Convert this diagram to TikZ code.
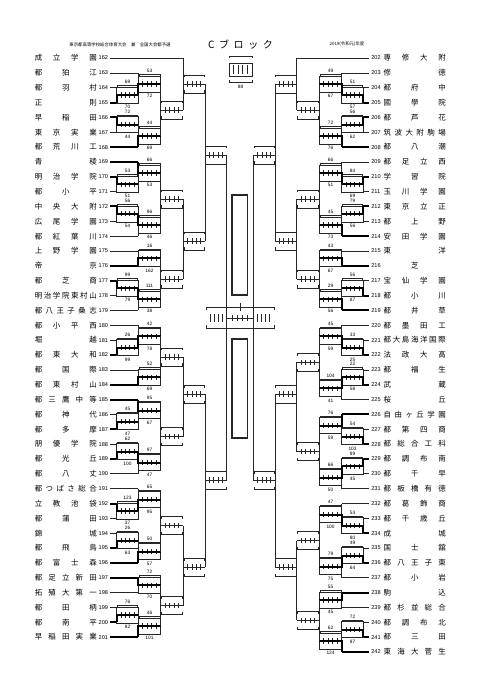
\documentclass[tikz,border=0pt]{standalone}
\usepackage{fontspec}
\setmainfont{Liberation Sans}
\newfontfamily\jp{Noto Sans CJK JP}
\newfontfamily\jpl{Noto Sans CJK JP}
\makeatletter
\def\spr@first#1{#1\spr@next}
\def\spr@next#1{\ifx\relax#1\else\hfill#1\expandafter\spr@next\fi}
\newcommand\spreadname[2]{\makebox[#1][s]{\spr@first#2\relax}}
\makeatother
\newlength\nw \setlength\nw{46.5pt}
\def\Ca{116.7}\def\Cb{138.3}\def\Cc{160.7}\def\Cd{183.3}\def\Ce{205}\def\Cf{226.7}
% match: xa xb ytop ybot ymid winner(t/b/n) labelabove labelbelow
\newcommand\mt[8]{%
  \pgfmathsetmacro\xm{(#1+#2)/2}%
  \draw[ln] (#1,#3) -- (#1,#4);
  \draw[ln] (#1,#5) -- (#2,#5);
  \foreach \k in {1,2,3,4}{\draw[tk] ({#1+\k*(#2-#1)/5},#5-2.6) -- ++(0,5.2);}
  \if n#6
    \draw[ln] (#1+0.8,#5-6.5) -- (#1+0.8,#5-9) -- (#2-0.8,#5-9) -- (#2-0.8,#5-6.5);
    \draw[ln] (#1+0.8,#5+6.5) -- (#1+0.8,#5+9) -- (#2-0.8,#5+9) -- (#2-0.8,#5+6.5);
  \else
    \draw[ln] (#1,#5-8) rectangle (#2,#5+8);
    \draw[ln] (#1+0.8,#5-8) -- (#1+0.8,#5-9.5) -- (#2-0.8,#5-9.5) -- (#2-0.8,#5-8);
    \if t#6
      \draw[thk] (#1,#3) -- (#1,#5) -- (#2,#5);
    \else
      \draw[thk] (#1,#4) -- (#1,#5) -- (#2,#5);
    \fi
    \node[lab] at (\xm,#5-13) {#7};
    \node[lab] at (\xm,#5+12) {#8};
  \fi
}
\newcommand\lteam[5]{%
  \node[num,anchor=east] (t#1) at (108.3,#3) {#1};
  \node[nm,anchor=west] (n#1) at (34.5,#3) {\spreadname{\nw}{#2}};
  \draw[#5] ([xshift=1.6pt]t#1.east) -- (#4,#3);
}
\newcommand\rteam[5]{%
  \node[num,anchor=west] (t#1) at (371,#3) {#1};
  \node[nm,anchor=east] (n#1) at (446,#3) {\spreadname{\nw}{#2}};
  \draw[#5] ([xshift=-1.6pt]t#1.west) -- (480-#4,#3);
}
\begin{document}
\begin{tikzpicture}[x=0.75pt,y=-0.75pt,
  ln/.style={line width=0.5pt,black!85},
  thk/.style={line width=1.5pt,black},
  tk/.style={line width=0.45pt,black!85},
  nm/.style={font=\jp\fontsize{5.6}{6}\selectfont,inner sep=0pt},
  num/.style={font=\fontsize{4.2}{5}\selectfont,inner sep=0pt},
  lab/.style={font=\fontsize{3.6}{4}\selectfont,inner sep=0pt}]
\useasboundingbox (0,0) rectangle (481,680);
\fill[white] (0,0) rectangle (481,680);
% header
\node[font=\jpl\fontsize{3.3}{4}\selectfont,inner sep=0pt] (hdr) at (120,44.5) {東京都高等学校総合体育大会　兼　全国大会都予選};
\node[font=\jpl\fontsize{7.5}{8}\selectfont,inner sep=0pt] (blk) at (240.5,45) {\makebox[48.5pt][s]{C\hfill ブ\hfill ロ\hfill ッ\hfill ク}};
\node[font=\jpl\fontsize{3.3}{4}\selectfont,inner sep=0pt] (yr) at (347,44.5) {2019(令和元)年度};
% header small figure
\draw[ln] (229,58) -- (229,56) -- (252,56) -- (252,58);
\draw[ln] (229,63) rectangle (252,76);
\foreach \xx in {233.5,238,242.5,247}{\draw[tk] (\xx,65) -- (\xx,74);}
\draw[ln] (229,80) -- (229,82) -- (252,82) -- (252,80);
\node[lab] (hfig) at (240.5,87) {88};
% left teams
\lteam{162}{成立学園}{58}{\Cd}{ln}
\lteam{163}{都狛江}{72.85}{\Cb}{ln}
\lteam{164}{都羽村}{87.7}{\Ca}{ln}
\lteam{165}{正則}{102.55}{\Ca}{thk}
\lteam{166}{早稲田}{117.4}{\Ca}{thk}
\lteam{167}{東京実業}{132.25}{\Ca}{ln}
\lteam{168}{都荒川工}{147.1}{\Cb}{thk}
\lteam{169}{青稜}{161.95}{\Cb}{thk}
\lteam{170}{明治学院}{176.8}{\Ca}{thk}
\lteam{171}{都小平}{191.65}{\Ca}{ln}
\lteam{172}{中央大附}{206.5}{\Ca}{thk}
\lteam{173}{広尾学園}{221.35}{\Ca}{ln}
\lteam{174}{都紅葉川}{236.2}{\Cb}{ln}
\lteam{175}{上野学園}{251.05}{\Cb}{ln}
\lteam{176}{帝京}{265.9}{\Cb}{thk}
\lteam{177}{都芝商}{280.75}{\Ca}{thk}
\lteam{178}{明治学院東村山}{295.6}{\Ca}{ln}
\lteam{179}{都八王子桑志}{310.45}{\Cb}{ln}
\lteam{180}{都小平西}{325.3}{\Cb}{ln}
\lteam{181}{堀越}{340.15}{\Ca}{ln}
\lteam{182}{都東大和}{355}{\Ca}{thk}
\lteam{183}{都国際}{369.85}{\Cb}{ln}
\lteam{184}{都東村山}{384.7}{\Cb}{thk}
\lteam{185}{都三鷹中等}{399.55}{\Cb}{thk}
\lteam{186}{都神代}{414.4}{\Ca}{ln}
\lteam{187}{都多摩}{429.25}{\Ca}{thk}
\lteam{188}{朋優学院}{444.1}{\Ca}{ln}
\lteam{189}{都光丘}{458.95}{\Ca}{thk}
\lteam{190}{都八丈}{473.8}{\Cb}{ln}
\lteam{191}{都つばさ総合}{488.65}{\Cb}{ln}
\lteam{192}{立教池袋}{503.5}{\Ca}{thk}
\lteam{193}{都蒲田}{518.35}{\Ca}{ln}
\lteam{194}{錦城}{533.2}{\Ca}{ln}
\lteam{195}{都飛鳥}{548.05}{\Ca}{thk}
\lteam{196}{都富士森}{562.9}{\Cb}{thk}
\lteam{197}{都足立新田}{577.75}{\Cb}{thk}
\lteam{198}{拓殖大第一}{592.6}{\Cb}{ln}
\lteam{199}{都田柄}{607.45}{\Ca}{ln}
\lteam{200}{都南平}{622.3}{\Ca}{thk}
\lteam{201}{早稲田実業}{637.15}{\Cb}{thk}
% right teams
\rteam{202}{専修大附}{58}{\Cd}{ln}
\rteam{203}{修徳}{72.85}{\Cb}{ln}
\rteam{204}{都府中}{87.7}{\Ca}{ln}
\rteam{205}{國學院}{102.55}{\Ca}{thk}
\rteam{206}{都芦花}{117.4}{\Ca}{thk}
\rteam{207}{筑波大附駒場}{132.25}{\Ca}{ln}
\rteam{208}{都八潮}{147.1}{\Cb}{thk}
\rteam{209}{都足立西}{161.95}{\Cb}{ln}
\rteam{210}{学習院}{176.8}{\Ca}{thk}
\rteam{211}{玉川学園}{191.65}{\Ca}{ln}
\rteam{212}{東京立正}{206.5}{\Ca}{thk}
\rteam{213}{都上野}{221.35}{\Ca}{ln}
\rteam{214}{安田学園}{236.2}{\Cb}{thk}
\rteam{215}{東洋}{251.05}{\Cb}{ln}
\rteam{216}{\hfill 芝\hfill}{265.9}{\Cb}{thk}
\rteam{217}{宝仙学園}{280.75}{\Ca}{ln}
\rteam{218}{都小川}{295.6}{\Ca}{thk}
\rteam{219}{都井草}{310.45}{\Cb}{thk}
\rteam{220}{都墨田工}{325.3}{\Cb}{ln}
\rteam{221}{都大島海洋国際}{340.15}{\Ca}{ln}
\rteam{222}{法政大高}{355}{\Ca}{thk}
\rteam{223}{都福生}{369.85}{\Ca}{ln}
\rteam{224}{武蔵}{384.7}{\Ca}{thk}
\rteam{225}{桜丘}{399.55}{\Cb}{ln}
\rteam{226}{自由ヶ丘学園}{414.4}{\Cb}{thk}
\rteam{227}{都第四商}{429.25}{\Ca}{ln}
\rteam{228}{都総合工科}{444.1}{\Ca}{thk}
\rteam{229}{都調布南}{458.95}{\Ca}{thk}
\rteam{230}{都千早}{473.8}{\Ca}{ln}
\rteam{231}{都板橋有徳}{488.65}{\Cb}{ln}
\rteam{232}{都葛飾商}{503.5}{\Cb}{ln}
\rteam{233}{都千歳丘}{518.35}{\Ca}{ln}
\rteam{234}{成城}{533.2}{\Ca}{thk}
\rteam{235}{国士舘}{548.05}{\Ca}{ln}
\rteam{236}{都八王子東}{562.9}{\Ca}{thk}
\rteam{237}{都小岩}{577.75}{\Cb}{ln}
\rteam{238}{駒込}{592.6}{\Cb}{thk}
\rteam{239}{都杉並総合}{607.45}{\Cb}{ln}
\rteam{240}{都調布北}{622.3}{\Ca}{ln}
\rteam{241}{都三田}{637.15}{\Ca}{thk}
\rteam{242}{東海大菅生}{652}{\Cb}{thk}
% left bracket
\mt{\Ca}{\Cb}{87.7}{102.55}{95.1}{b}{69}{70}
\mt{\Cb}{\Cc}{72.85}{95.1}{84}{b}{53}{72}
\mt{\Ca}{\Cb}{117.4}{132.25}{124.8}{t}{72}{44}
\mt{\Cb}{\Cc}{124.8}{147.1}{136}{b}{44}{69}
\mt{\Cc}{\Cd}{84}{136}{110}{n}{}{}
\mt{\Cd}{\Ce}{58}{110}{84}{n}{}{}
\mt{\Ca}{\Cb}{176.8}{191.65}{184.2}{t}{53}{51}
\mt{\Cb}{\Cc}{161.95}{184.2}{173.1}{t}{66}{53}
\mt{\Ca}{\Cb}{206.5}{221.35}{213.9}{t}{56}{54}
\mt{\Cb}{\Cc}{213.9}{236.2}{225}{t}{96}{46}
\mt{\Cc}{\Cd}{173.1}{225}{199}{n}{}{}
\mt{\Cb}{\Cc}{251.05}{265.9}{258.5}{b}{16}{162}
\mt{\Ca}{\Cb}{280.75}{295.6}{288.2}{t}{99}{79}
\mt{\Cb}{\Cc}{288.2}{310.45}{299.3}{t}{111}{38}
\mt{\Cc}{\Cd}{258.5}{299.3}{279}{n}{}{}
\mt{\Cd}{\Ce}{199}{279}{241}{n}{}{}
\mt{\Ce}{\Cf}{84}{241}{155}{n}{}{}
\mt{\Ca}{\Cb}{340.15}{355}{347.6}{b}{26}{99}
\mt{\Cb}{\Cc}{325.3}{347.6}{336.4}{b}{42}{78}
\mt{\Cb}{\Cc}{369.85}{384.7}{377.3}{b}{52}{69}
\mt{\Cc}{\Cd}{336.4}{377.3}{356.9}{n}{}{}
\mt{\Ca}{\Cb}{414.4}{429.25}{421.8}{b}{45}{47}
\mt{\Cb}{\Cc}{399.55}{421.8}{410.7}{t}{95}{67}
\mt{\Ca}{\Cb}{444.1}{458.95}{451.5}{b}{62}{100}
\mt{\Cb}{\Cc}{451.5}{473.8}{462.7}{t}{97}{47}
\mt{\Cc}{\Cd}{410.7}{462.7}{436.7}{n}{}{}
\mt{\Cd}{\Ce}{356.9}{436.7}{394}{n}{}{}
\mt{\Ca}{\Cb}{503.5}{518.35}{510.9}{t}{123}{37}
\mt{\Cb}{\Cc}{488.65}{510.9}{499.8}{b}{65}{95}
\mt{\Ca}{\Cb}{533.2}{548.05}{540.6}{b}{26}{63}
\mt{\Cb}{\Cc}{540.6}{562.9}{551.8}{b}{50}{57}
\mt{\Cc}{\Cd}{499.8}{551.8}{525.8}{n}{}{}
\mt{\Cb}{\Cc}{577.75}{592.6}{585.2}{t}{72}{70}
\mt{\Ca}{\Cb}{607.45}{622.3}{614.9}{b}{76}{82}
\mt{\Cb}{\Cc}{614.9}{637.15}{626}{b}{46}{101}
\mt{\Cc}{\Cd}{585.2}{626}{605.6}{n}{}{}
\mt{\Cd}{\Ce}{525.8}{605.6}{567}{n}{}{}
\mt{\Ce}{\Cf}{394}{567}{480}{n}{}{}
\draw[ln] (\Cf,155) -- (\Cf,480);
% right bracket (mirrored)
\begin{scope}[shift={(480,0)},xscale=-1]
\mt{\Ca}{\Cb}{87.7}{102.55}{95.1}{b}{51}{57}
\mt{\Cb}{\Cc}{72.85}{95.1}{84}{b}{49}{67}
\mt{\Ca}{\Cb}{117.4}{132.25}{124.8}{t}{56}{62}
\mt{\Cb}{\Cc}{124.8}{147.1}{136}{b}{72}{76}
\mt{\Cc}{\Cd}{84}{136}{110}{n}{}{}
\mt{\Cd}{\Ce}{58}{110}{84}{n}{}{}
\mt{\Ca}{\Cb}{176.8}{191.65}{184.2}{t}{84}{69}
\mt{\Cb}{\Cc}{161.95}{184.2}{173.1}{b}{66}{51}
\mt{\Ca}{\Cb}{206.5}{221.35}{213.9}{t}{79}{56}
\mt{\Cb}{\Cc}{213.9}{236.2}{225}{b}{45}{73}
\mt{\Cc}{\Cd}{173.1}{225}{199}{n}{}{}
\mt{\Cb}{\Cc}{251.05}{265.9}{258.5}{b}{43}{67}
\mt{\Ca}{\Cb}{280.75}{295.6}{288.2}{b}{56}{87}
\mt{\Cb}{\Cc}{288.2}{310.45}{299.3}{b}{29}{56}
\mt{\Cc}{\Cd}{258.5}{299.3}{279}{n}{}{}
\mt{\Cd}{\Ce}{199}{279}{241}{n}{}{}
\mt{\Ce}{\Cf}{84}{241}{155}{n}{}{}
\mt{\Ca}{\Cb}{340.15}{355}{347.6}{b}{33}{25}
\mt{\Cb}{\Cc}{325.3}{347.6}{336.4}{b}{45}{59}
\mt{\Ca}{\Cb}{369.85}{384.7}{377.3}{b}{22}{58}
\mt{\Cb}{\Cc}{377.3}{399.55}{388.4}{t}{104}{41}
\mt{\Cc}{\Cd}{336.4}{388.4}{362.4}{n}{}{}
\mt{\Ca}{\Cb}{429.25}{444.1}{436.7}{b}{54}{103}
\mt{\Cb}{\Cc}{414.4}{436.7}{425.5}{t}{76}{59}
\mt{\Ca}{\Cb}{458.95}{473.8}{466.4}{t}{89}{45}
\mt{\Cb}{\Cc}{466.4}{488.65}{477.5}{t}{66}{50}
\mt{\Cc}{\Cd}{425.5}{477.5}{451.5}{n}{}{}
\mt{\Cd}{\Ce}{362.4}{451.5}{394}{n}{}{}
\mt{\Ca}{\Cb}{518.35}{533.2}{525.8}{b}{53}{80}
\mt{\Cb}{\Cc}{503.5}{525.8}{514.6}{b}{47}{100}
\mt{\Ca}{\Cb}{548.05}{562.9}{555.5}{b}{49}{64}
\mt{\Cb}{\Cc}{555.5}{577.75}{566.6}{t}{79}{75}
\mt{\Cc}{\Cd}{514.6}{566.6}{540.6}{n}{}{}
\mt{\Cb}{\Cc}{592.6}{607.45}{600}{t}{55}{45}
\mt{\Ca}{\Cb}{622.3}{637.15}{629.7}{b}{72}{87}
\mt{\Cb}{\Cc}{629.7}{652}{640.9}{b}{62}{124}
\mt{\Cc}{\Cd}{600}{640.9}{620.4}{n}{}{}
\mt{\Cd}{\Ce}{540.6}{620.4}{567}{n}{}{}
\mt{\Ce}{\Cf}{394}{567}{480}{n}{}{}
\draw[ln] (\Cf,155) -- (\Cf,480);
\end{scope}
% centre
\draw[line width=1.3pt,black!85] (232,195) rectangle (247.5,295);
\draw[line width=1.3pt,black!85] (232,339) rectangle (247.5,438);
\draw[ln] (206,310) -- (206,307) -- (274,307) -- (274,310);
\draw[ln] (206,325) -- (206,328) -- (274,328) -- (274,325);
\draw[ln] (240,303) -- (240,311);
\draw[ln] (\Cf,318) -- (480-\Cf,318);
\foreach \xx in {232,237,242,247}{\draw[tk] (\xx,315.4) -- (\xx,320.6);}
\foreach \xx in {210.5,214.5,218.5,222.5}{\draw[tk] (\xx,314) -- (\xx,322); \draw[tk] (480-\xx,314) -- (480-\xx,322);}
\end{tikzpicture}
\end{document}
